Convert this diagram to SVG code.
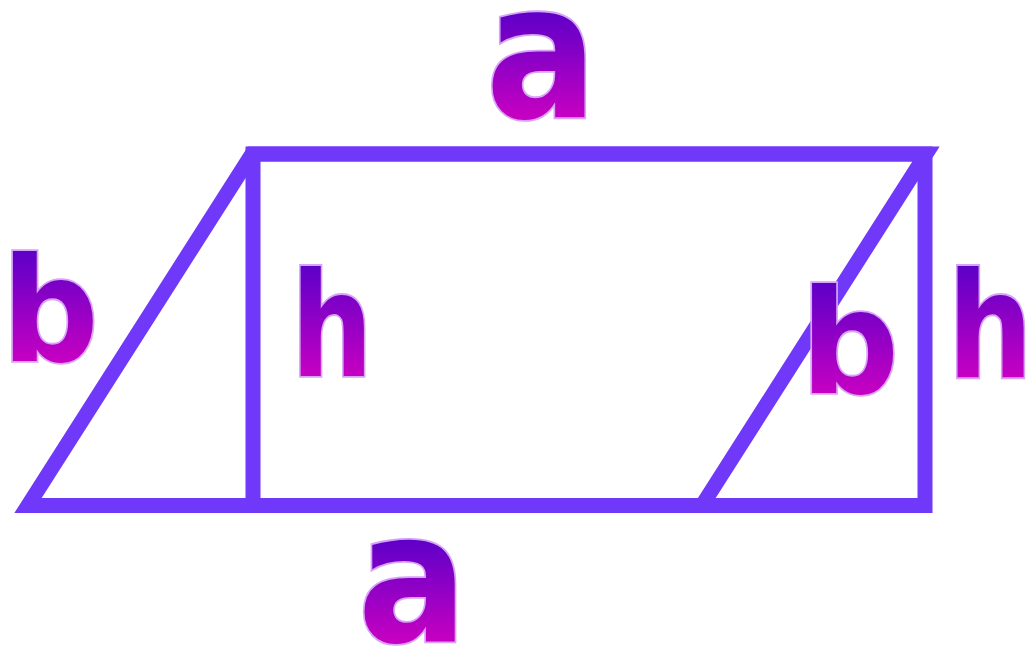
<svg xmlns="http://www.w3.org/2000/svg" width="1031" height="650" viewBox="0 0 1031 650">
  <defs>
    <linearGradient id="gA" gradientUnits="userSpaceOnUse" x1="0" y1="-57" x2="0" y2="0">
      <stop offset="0" stop-color="#5c00c8"/>
      <stop offset="1" stop-color="#c600c2"/>
    </linearGradient>
    <linearGradient id="gB" gradientUnits="userSpaceOnUse" x1="0" y1="-77" x2="0" y2="0">
      <stop offset="0" stop-color="#5c00c8"/>
      <stop offset="1" stop-color="#c600c2"/>
    </linearGradient>
    <style>
      .edge { fill: none; stroke: #7038f8; stroke-width: 15; stroke-linejoin: miter; stroke-miterlimit: 10; }
      .lbl { font-family: "DejaVu Sans", "Liberation Sans", sans-serif; font-weight: bold; font-size: 100px; stroke: #d6a4f6; stroke-width: 3.5; vector-effect: non-scaling-stroke; paint-order: stroke; }
      .la { fill: url(#gA); }
      .lb { fill: url(#gB); }
    </style>
  </defs>
  <rect width="1031" height="650" fill="#ffffff"/>
  <g id="connectors">
    <polygon class="edge" points="28,505.5 252,154 926,154 702,505.5"/>
    <rect class="edge" x="253" y="154" width="672" height="351.5"/>
  </g>
  <g id="label-a-top"><text class="lbl la" transform="translate(541.5,117) scale(1.66,1.87)" text-anchor="middle">a</text></g>
  <g id="label-a-bottom"><text class="lbl la" transform="translate(412.5,641) scale(1.63,1.82)" text-anchor="middle">a</text></g>
  <g id="label-b-left"><text class="lbl lb" transform="translate(1.5,361) scale(1.36,1.45)">b</text></g>
  <g id="label-h-mid"><text class="lbl lb" transform="translate(291,376) scale(1.15,1.45)">h</text></g>
  <g id="label-b-right"><text class="lbl lb" transform="translate(800.5,393) scale(1.38,1.45)">b</text></g>
  <g id="label-h-right"><text class="lbl lb" transform="translate(947.5,377) scale(1.2,1.46)">h</text></g>
</svg>
